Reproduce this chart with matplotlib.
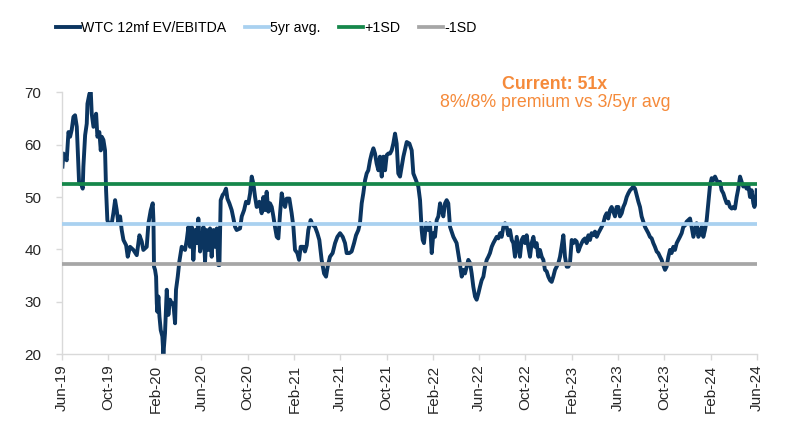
import numpy as np
import pandas as pd
import matplotlib
matplotlib.use("Agg")
from matplotlib import pyplot as plt
import matplotlib.dates as mdates

plt.rcParams['font.family'] = ['Liberation Sans', 'DejaVu Sans']

# months elapsed since Jun-2019 and the WTC 12m forward EV/EBITDA
months = [0.03, 0.12, 0.40, 0.55, 0.69, 0.83, 0.98, 1.12, 1.27, 1.41, 1.47, 1.70, 1.78, 1.84, 1.99,
          2.13, 2.19, 2.36, 2.48, 2.56, 2.71, 2.94, 3.05, 3.22, 3.34, 3.43, 3.57, 3.71, 3.80, 3.91,
          4.00, 4.29, 4.43, 4.58, 4.72, 4.86, 5.01, 5.15, 5.30, 5.53, 5.67, 5.87, 6.16, 6.45, 6.68,
          6.88, 7.02, 7.31, 7.46, 7.66, 7.83, 7.89, 7.94, 8.03, 8.12, 8.18, 8.23, 8.32, 8.41, 8.52,
          8.66, 8.75, 8.89, 9.04, 9.18, 9.33, 9.47, 9.61, 9.76, 9.84, 9.99, 10.13, 10.33, 10.62, 10.77,
          10.91, 11.05, 11.20, 11.34, 11.49, 11.63, 11.77, 11.92, 12.06, 12.21, 12.35, 12.49, 12.64, 12.78, 12.92,
          13.07, 13.21, 13.36, 13.50, 13.59, 13.70, 13.87, 13.99, 14.16, 14.28, 14.45, 14.65, 14.80, 14.94, 15.08,
          15.37, 15.52, 15.72, 15.89, 16.09, 16.24, 16.38, 16.52, 16.67, 16.81, 17.04, 17.24, 17.39, 17.53, 17.67,
          17.82, 17.96, 18.11, 18.25, 18.39, 18.54, 18.68, 18.83, 18.97, 19.11, 19.26, 19.40, 19.63, 19.83, 19.98,
          20.12, 20.32, 20.47, 20.61, 20.84, 20.98, 21.13, 21.27, 21.47, 21.65, 21.85, 22.05, 22.22, 22.42, 22.63,
          22.80, 22.94, 23.14, 23.37, 23.58, 23.78, 24.01, 24.24, 24.44, 24.58, 24.81, 25.01, 25.22, 25.39, 25.59,
          25.73, 25.88, 26.02, 26.17, 26.31, 26.45, 26.60, 26.74, 26.89, 27.03, 27.17, 27.32, 27.46, 27.61, 27.75,
          27.90, 28.04, 28.18, 28.33, 28.47, 28.61, 28.76, 28.90, 29.04,
          29.19, 29.48, 29.77, 30.00, 30.20, 30.34, 30.57, 30.77, 30.92, 31.06, 31.15, 31.26, 31.44, 31.64, 31.78,
          31.93, 32.07, 32.21, 32.36, 32.50, 32.65, 32.79, 32.93, 33.08, 33.22, 33.36, 33.51, 33.80, 34.08, 34.31,
          34.52, 34.66, 34.80, 34.95, 35.09, 35.24, 35.38, 35.52, 35.67, 35.81, 35.96, 36.10, 36.24, 36.39, 36.53,
          36.68, 36.82, 36.96, 37.11, 37.25, 37.40, 37.54, 37.68, 37.83, 37.97, 38.12, 38.26, 38.40, 38.55, 38.69,
          38.84, 38.98, 39.12, 39.27, 39.41, 39.55, 39.70, 39.84, 39.99, 40.13, 40.27, 40.42, 40.56, 40.71, 40.85,
          40.99, 41.14, 41.28, 41.43, 41.57, 41.71, 41.86, 42.00, 42.15, 42.29, 42.43, 42.58, 42.72, 42.87, 43.01,
          43.15, 43.30, 43.44, 43.59, 43.73, 43.87, 44.02, 44.16, 44.30, 44.45, 44.59, 44.74, 44.88, 45.02, 45.17,
          45.31, 45.46, 45.60, 45.74, 45.89, 46.03, 46.18, 46.32, 46.46, 46.61, 46.75, 46.90, 47.04, 47.18, 47.33,
          47.47, 47.62, 47.76, 47.90, 48.05, 48.19, 48.34, 48.48, 48.62, 48.77, 48.91, 49.06, 49.20, 49.34, 49.49,
          49.63, 49.78, 49.92, 50.06, 50.21, 50.35, 50.49, 50.64, 50.78, 50.93, 51.07, 51.21, 51.36, 51.50, 51.65,
          51.79, 51.93, 52.08, 52.22, 52.37, 52.51, 52.65, 52.80, 52.94, 53.09, 53.23, 53.37, 53.52, 53.66, 53.81,
          53.95, 54.09, 54.24, 54.38, 54.53, 54.67, 54.81, 54.96, 55.10, 55.25, 55.39, 55.53, 55.68, 55.82, 55.97,
          56.11, 56.25, 56.40, 56.54, 56.69, 56.83, 56.97, 57.12, 57.26, 57.41, 57.55, 57.69, 57.84, 57.98, 58.12,
          58.27, 58.41, 58.56, 58.70, 58.84, 58.99, 59.13, 59.28, 59.42, 59.56, 59.71, 59.80, 59.90, 60.00]

ev_ebitda = [55.8, 58.3, 57.0, 62.4, 61.5, 62.8, 65.3, 65.6, 63.4, 55.8, 52.6, 52.3, 51.6, 55.8, 61.8,
             64.0, 67.8, 69.7, 70.0, 65.9, 63.4, 65.9, 61.5, 62.4, 58.9, 61.5, 60.9, 58.9, 51.3, 45.6,
             45.0, 45.0, 46.9, 49.4, 47.5, 45.0, 46.3, 43.7, 41.8, 40.8, 38.6, 40.5, 39.9, 38.9, 42.7,
             41.5, 39.9, 40.5, 45.0, 47.5, 48.8, 45.6, 36.7, 36.1, 34.8, 29.7, 28.1, 31.0, 27.2, 24.6,
             23.4, 20.0, 24.0, 32.3, 27.5, 30.4, 29.7, 29.7, 25.9, 32.3, 34.8, 37.7, 40.5, 39.9, 41.8,
             44.3, 40.5, 44.3, 38.0, 43.7, 41.2, 45.9, 39.6, 41.2, 44.3, 37.7, 43.7, 39.9, 44.0, 38.6,
             43.7, 40.5, 44.0, 37.0, 37.0, 49.4, 50.4, 50.7, 51.6, 49.7, 48.8, 47.5, 45.9, 44.3, 43.7,
             44.0, 46.3, 47.5, 49.1, 48.8, 50.7, 53.9, 52.6, 50.0, 48.1, 49.1, 46.9, 50.0, 47.5, 51.0,
             47.2, 48.8, 48.1, 46.3, 44.3, 42.4, 42.1, 46.9, 50.7, 49.1, 48.1, 49.7, 49.7, 46.9, 44.3,
             39.9, 39.3, 38.0, 40.5, 40.5, 39.6, 40.8, 43.7, 45.6, 44.7, 44.3, 43.1, 41.8, 38.0, 35.4,
             34.8, 36.7, 38.6, 39.3, 41.2, 42.4, 43.1, 42.4, 41.2, 39.3, 39.3, 39.6, 41.2, 42.7, 43.7,
             45.0, 48.8, 50.7, 53.2, 54.5, 55.1, 57.0, 58.3, 59.3, 58.3, 56.4, 55.1, 57.7, 53.9, 57.7,
             55.1, 58.0, 58.3, 58.3, 58.9, 60.2, 62.1, 60.2, 54.5,
             53.9, 57.7, 60.5, 60.2, 58.9, 54.5, 53.2, 52.0, 49.4, 43.7, 41.8, 41.2, 45.0, 43.7, 45.0,
             39.3, 43.1, 42.4, 45.6, 46.3, 48.8, 47.5, 46.3, 48.8, 49.4, 48.8, 44.3, 42.4, 41.2, 38.0,
             34.8, 36.1, 35.4, 36.7, 38.0, 37.4, 35.4, 32.9, 31.0, 30.4, 31.6, 32.9, 34.1, 34.8, 36.7,
             38.0, 38.6, 39.3, 40.5, 41.2, 41.8, 42.4, 42.1, 43.1, 42.4, 44.3, 45.0, 44.3, 42.7, 43.7,
             41.8, 41.2, 38.6, 42.4, 40.5, 38.6, 41.8, 42.4, 41.2, 42.7, 40.5, 38.6, 41.2, 42.4, 40.5,
             41.2, 38.6, 39.9, 38.6, 38.0, 36.1, 35.8, 34.8, 34.1, 33.8, 34.8, 36.1, 36.7, 37.4, 38.6,
             40.5, 42.7, 38.6, 36.7, 36.7, 37.4, 41.8, 41.2, 41.8, 41.5, 39.6, 40.5, 41.2, 41.8, 42.1,
             41.2, 42.7, 41.8, 43.1, 42.7, 43.4, 42.4, 43.1, 43.7, 44.3, 45.0, 46.3, 46.9, 45.9, 47.5,
             48.1, 47.2, 46.3, 48.1, 48.1, 46.3, 46.9, 48.1, 48.8, 50.0, 50.7, 51.3, 51.6, 52.0, 51.6,
             50.4, 49.1, 48.1, 46.3, 45.3, 44.3, 43.7, 43.1, 42.4, 42.1, 41.2, 40.5, 39.6, 39.3, 38.6,
             38.0, 37.0, 36.1, 36.7, 38.6, 39.9, 39.3, 40.5, 39.9, 41.2, 41.8, 42.4, 43.1, 44.3, 44.6,
             45.3, 45.6, 45.9, 44.3, 42.4, 43.7, 45.0, 42.4, 43.1, 44.3, 42.4, 43.7, 45.6, 48.8, 52.3,
             53.6, 53.2, 53.9, 53.2, 52.6, 52.9, 51.3, 50.7, 49.7, 48.8, 49.1, 48.1, 47.8, 48.1, 47.8,
             50.0, 51.6, 53.9, 52.9, 52.0, 52.3, 51.6, 52.3, 50.0, 51.3, 48.8, 48.1, 48.8, 51.3]

avg_5yr = 44.8
plus_1sd = 52.5
minus_1sd = 37.2

dates = pd.Timestamp('2019-06-01') + pd.to_timedelta(np.array(months) * 30.437, unit='D')

fig = plt.figure(figsize=(7.96, 4.33), dpi=100)
ax = fig.add_axes([0.078, 0.182, 0.873, 0.605])

ax.plot(dates, ev_ebitda, color='#0B3560', lw=2.8, label='WTC 12mf EV/EBITDA', solid_joinstyle='round', zorder=2)
ax.axhline(avg_5yr, color='#A9D1F0', lw=2.7, label='5yr avg.', zorder=3)
ax.axhline(plus_1sd, color='#15874A', lw=2.7, label='+1SD', zorder=3)
ax.axhline(minus_1sd, color='#A6A6A6', lw=2.7, label='-1SD', zorder=3)

ax.set_ylim(20, 70)
ax.set_yticks([20, 30, 40, 50, 60, 70])
ax.set_xlim(pd.Timestamp('2019-06-01'), pd.Timestamp('2024-06-01'))
ticks = pd.date_range('2019-06-01', '2024-06-01', freq='4MS')
ax.set_xticks(ticks)
ax.xaxis.set_major_formatter(mdates.DateFormatter('%b-%y'))
plt.setp(ax.get_xticklabels(), rotation=90)

for s in ['top', 'right']:
    ax.spines[s].set_visible(False)
for s in ['left', 'bottom']:
    ax.spines[s].set_color('#D9D9D9')
    ax.spines[s].set_linewidth(1.0)
ax.tick_params(axis='both', colors='#D9D9D9', labelcolor='#262626', labelsize=11, length=4, width=1.0)
ax.tick_params(axis='y', pad=11)

fig.legend(loc='center left', bbox_to_anchor=(0.07, 0.935), ncol=4, frameon=False, fontsize=10.2,
           handlelength=1.7, handletextpad=0.05, columnspacing=1.35, borderpad=0, borderaxespad=0)

fig.text(0.697, 0.805, 'Current: 51x', color='#F58A3A', fontsize=12.8, fontweight='bold', ha='center', va='center')
fig.text(0.697, 0.763, '8%/8% premium vs 3/5yr avg', color='#F58A3A', fontsize=12.8, ha='center', va='center')

fig.savefig('out.png', dpi=100)
